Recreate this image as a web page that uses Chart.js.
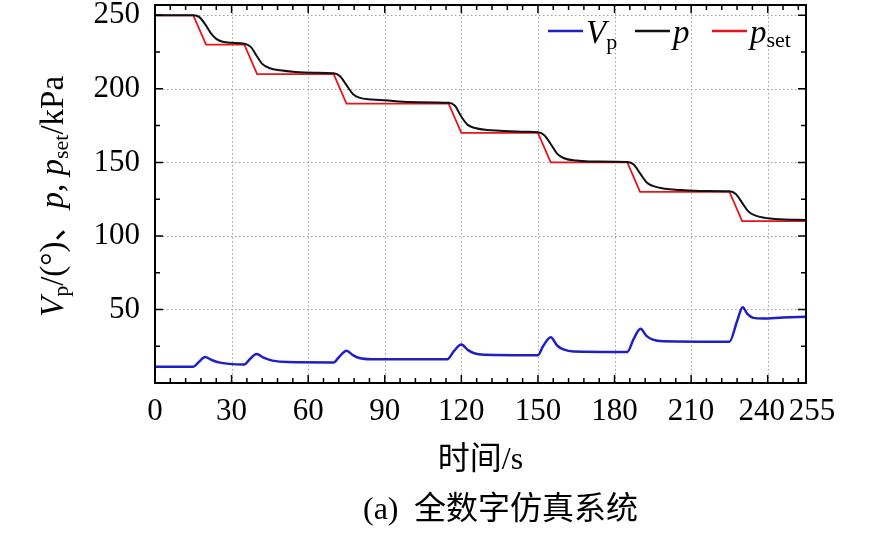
<!DOCTYPE html>
<html>
<head>
<meta charset="utf-8">
<script src="https://cdn.jsdelivr.net/npm/chart.js@4.4.1/dist/chart.umd.min.js"></script>
<style>
  body { margin: 0; background: #fff; }
  #wrap { width: 886px; height: 534px; }
</style>
</head>
<body>
<div id="wrap"><canvas id="pressureChart"></canvas></div>
<script>
// Axis ticks
const xTicks = [0, 30, 60, 90, 120, 150, 180, 210, 240, 255];
const yTicks = [50, 100, 150, 200, 250];

// Set-point pressure p_set (kPa)
const psetTime  = [0, 15, 20, 35, 40, 70, 75, 115, 120, 150, 155, 185, 190, 225, 230, 255];
const psetValue = [250, 250, 230, 230, 210, 210, 190, 190, 170, 170, 150, 150, 130, 130, 110, 110];

// Measured pressure p (kPa)
const pTime = [0, 15, 17.5, 20, 22, 24, 26.5, 30, 35,
  37.5, 40, 42, 45, 49, 55, 62, 70,
  72.5, 75, 77.5, 80, 85, 90, 100, 115,
  117.5, 120, 122.5, 125, 130, 135, 145, 150,
  152.5, 155, 157.5, 160, 165, 170, 185,
  187.5, 190, 192.5, 195, 200, 205, 215, 225,
  227.5, 230, 232.5, 235, 240, 245, 255];
const pValue = [250, 250, 248.6, 243, 237.5, 234, 232, 231.3, 230.7,
  228.5, 222, 217, 214, 212.6, 211.5, 211, 210.6,
  208.5, 202.5, 196.5, 194, 192.8, 192.2, 191, 190.5,
  188.5, 181, 175.5, 173.5, 172, 171.5, 170.8, 170.5,
  168.5, 162.5, 156, 153, 151.2, 150.6, 150.2,
  148.5, 142.5, 136.5, 134, 132, 131.3, 130.5, 130.3,
  128.5, 122.5, 116.5, 114, 112, 111.3, 110.8];

// Valve opening Vp (deg)
const vpTime = [0, 15, 17, 19.6, 22, 25, 29, 35,
  37, 39.8, 42.5, 46, 52, 70,
  72, 75, 77.5, 80, 85, 114.5,
  117, 120, 122.5, 125, 129, 150,
  152, 155, 157.5, 160, 164, 185,
  187.5, 190.2, 192.5, 195, 199, 225,
  228, 230.2, 232, 234.4, 238, 246, 255];
const vpValue = [11, 11, 14, 17.7, 15.8, 14, 13, 12.6,
  16, 19.7, 17.2, 15.2, 14.2, 14,
  17.5, 22, 19, 17, 16.2, 16.1,
  21.5, 26.1, 22.5, 20.2, 19.2, 18.9,
  25, 31.1, 25.5, 22.8, 21.4, 21.1,
  30, 36.8, 32, 29.5, 28.4, 28.1,
  42, 51.5, 47, 44.3, 43.8, 44.5, 45];

const BLUE = '#1f1fc4';
const BLACK = '#111111';
const RED = '#e5151b';
const SERIF = '"Liberation Serif", "Noto Sans CJK SC", serif';

// Zip time/value arrays into points
function toPoints(ts, vs) {
  return ts.map((t, i) => ({ x: t, y: vs[i] }));
}

// Draw a run of text pieces with different fonts, left to right
function drawRich(ctx, parts, x, y) {
  let cx = x;
  parts.forEach(p => {
    ctx.font = p.font;
    ctx.fillText(p.text, cx, y + (p.dy || 0));
    cx += ctx.measureText(p.text).width;
  });
  return cx;
}

const MAIN = '33px ' + SERIF;
const ITAL = 'italic 33px ' + SERIF;
const SUB = '22px ' + SERIF;

// Dotted grid at the labelled ticks (under the lines)
const dottedGrid = {
  id: 'dottedGrid',
  beforeDatasetsDraw(chart) {
    const { ctx, chartArea: a, scales: { x, y } } = chart;
    ctx.save();
    ctx.strokeStyle = '#a0a0a0';
    ctx.lineWidth = 1;
    ctx.setLineDash([1.5, 2.5]);
    ctx.beginPath();
    xTicks.filter(v => v > 0 && v < 255).forEach(v => {
      const px = Math.round(x.getPixelForValue(v)) + 0.5;
      ctx.moveTo(px, a.top); ctx.lineTo(px, a.bottom);
    });
    yTicks.forEach(v => {
      const py = Math.round(y.getPixelForValue(v)) + 0.5;
      ctx.moveTo(a.left, py); ctx.lineTo(a.right, py);
    });
    ctx.stroke();
    ctx.restore();
  }
};

// Frame, inward ticks, x labels, legend, titles and caption
const decorations = {
  id: 'decorations',
  afterDraw(chart) {
    const { ctx, chartArea: a, scales: { x, y } } = chart;
    ctx.save();
    ctx.strokeStyle = '#000';
    ctx.lineWidth = 1.5;
    ctx.beginPath();
    for (let v = 0; v <= 255; v += 6) {
      const px = x.getPixelForValue(v);
      const len = v % 30 === 0 ? 8 : 5;
      ctx.moveTo(px, a.bottom); ctx.lineTo(px, a.bottom - len);
      ctx.moveTo(px, a.top); ctx.lineTo(px, a.top + len);
    }
    for (let v = 25; v <= 255; v += 25) {
      const py = y.getPixelForValue(v);
      const len = v % 50 === 0 ? 8 : 5;
      ctx.moveTo(a.left, py); ctx.lineTo(a.left + len, py);
      ctx.moveTo(a.right, py); ctx.lineTo(a.right - len, py);
    }
    ctx.stroke();
    ctx.lineWidth = 2;
    ctx.strokeRect(a.left, a.top, a.right - a.left, a.bottom - a.top);

    ctx.fillStyle = '#000';

    // x tick labels (last two nudged apart as in the source figure)
    ctx.font = '31px ' + SERIF;
    ctx.textAlign = 'center';
    ctx.textBaseline = 'alphabetic';
    xTicks.forEach(v => {
      const nudge = v === 240 ? -6 : (v === 255 ? 6 : 0);
      ctx.fillText(String(v), x.getPixelForValue(v) + nudge, 420);
    });

    // legend
    ctx.textAlign = 'left';
    const items = [
      { color: BLUE, x0: 548, parts: [{ text: 'V', font: ITAL }, { text: 'p', font: SUB, dy: 6 }] },
      { color: BLACK, x0: 635, parts: [{ text: 'p', font: ITAL }] },
      { color: RED, x0: 712, parts: [{ text: 'p', font: ITAL }, { text: 'set', font: SUB, dy: 4 }] }
    ];
    items.forEach(it => {
      ctx.strokeStyle = it.color;
      ctx.lineWidth = 2.5;
      ctx.beginPath();
      ctx.moveTo(it.x0, 31); ctx.lineTo(it.x0 + 35, 31);
      ctx.stroke();
      drawRich(ctx, it.parts, it.x0 + 38, 43);
    });

    // y axis title
    ctx.save();
    ctx.translate(63, 317);
    ctx.rotate(-Math.PI / 2);
    drawRich(ctx, [
      { text: 'V', font: ITAL },
      { text: 'p', font: SUB, dy: 5 },
      { text: '/(°)、', font: MAIN },
      { text: 'p', font: ITAL },
      { text: ', ', font: MAIN },
      { text: 'p', font: ITAL },
      { text: 'set', font: SUB, dy: 5 },
      { text: '/kPa', font: MAIN }
    ], 0, 0);
    ctx.restore();

    // x axis title and caption
    ctx.font = '32px ' + SERIF;
    ctx.textBaseline = 'middle';
    ctx.textAlign = 'center';
    ctx.fillText('时间/s', (a.left + a.right) / 2, 461);
    ctx.textAlign = 'left';
    ctx.fillText('(a)', 363, 511);
    ctx.fillText('全数字仿真系统', 414, 511);
    ctx.restore();
  }
};

const chart = new Chart(document.getElementById('pressureChart'), {
  type: 'line',
  data: {
    datasets: [{
      label: 'Vp',
      data: toPoints(vpTime, vpValue),
      borderColor: BLUE,
      borderWidth: 2.5,
      pointRadius: 0,
      cubicInterpolationMode: 'monotone'
    }, {
      label: 'p',
      data: toPoints(pTime, pValue),
      borderColor: BLACK,
      borderWidth: 2,
      pointRadius: 0,
      cubicInterpolationMode: 'monotone'
    }, {
      label: 'pset',
      data: toPoints(psetTime, psetValue),
      borderColor: RED,
      borderWidth: 1.8,
      pointRadius: 0,
      tension: 0
    }]
  },
  options: {
    responsive: true,
    maintainAspectRatio: false,
    animation: false,
    events: [],
    layout: { padding: { left: 0, right: 80, top: 5, bottom: 0 } },
    plugins: { legend: { display: false }, tooltip: { enabled: false } },
    scales: {
      x: {
        type: 'linear',
        min: 0,
        max: 255,
        afterBuildTicks: s => { s.ticks = xTicks.map(v => ({ value: v })); },
        afterFit: s => { s.height = 151; s.paddingLeft = 0; s.paddingRight = 0; },
        ticks: { display: false },
        grid: { display: false },
        border: { display: false }
      },
      y: {
        min: 0,
        max: 257,
        afterBuildTicks: s => { s.ticks = yTicks.map(v => ({ value: v })); },
        afterFit: s => { s.width = 155; s.paddingTop = 0; s.paddingBottom = 0; },
        ticks: {
          padding: 15,
          color: '#000',
          font: { family: SERIF, size: 31 }
        },
        grid: { display: false, drawTicks: false },
        border: { display: false }
      }
    }
  },
  plugins: [dottedGrid, decorations]
});
</script>
</body>
</html>
